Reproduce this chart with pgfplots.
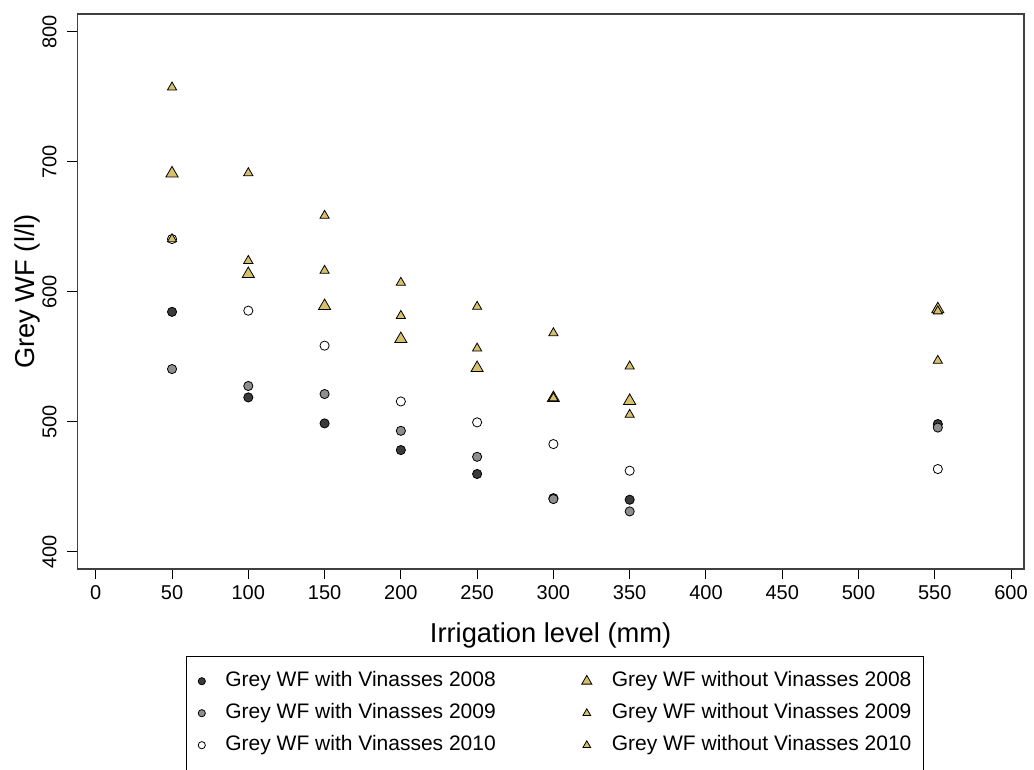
\documentclass[border=0pt]{standalone}
\usepackage{fontspec}
\setmainfont{Liberation Sans}
\usepackage{pgfplots}
\pgfplotsset{compat=1.18}
\newlength\px \setlength\px{0.75pt}
\definecolor{tri}{HTML}{D6C16A}
\definecolor{dk}{HTML}{3A3A3A}
\definecolor{gr}{HTML}{8E8E8E}
\begin{document}
\begin{tikzpicture}
\useasboundingbox (0,0) rectangle (1034\px,-769\px);
\begin{axis}[
  at={(77.3\px,-569\px)}, anchor=south west,
  scale only axis, width=946.7\px, height=555\px,
  xmin=-12.1, xmax=608.5, ymin=386.7, ymax=813.6,
  axis line style={line width=1.5\px, black!75},
  xtick={0,50,...,600}, ytick={400,500,...,800},
  xtick pos=left, ytick pos=left,
  tick align=outside, major tick length=10\px,
  tick style={line width=1\px, black},
  /pgf/number format/assume math mode=true,
  /pgf/number format/1000 sep={},
  tick label style={font=\fontsize{15}{18}\selectfont},
  xticklabel shift=2\px,
  yticklabel shift=6\px,
  yticklabel style={rotate=90, anchor=south},
  xlabel={Irrigation level (mm)},
  ylabel={Grey WF (l/l)},
  every axis x label/.style={at={(axis description cs:0.5,-0.119)}, anchor=center, font=\fontsize{20.5}{24}\selectfont},
  every axis y label/.style={at={(axis description cs:-0.053,0.5)}, rotate=90, anchor=center, font=\fontsize{20.5}{24}\selectfont},
  clip=false,
  legend columns=2,
  legend image code/.code={\draw[#1] plot coordinates {(0pt,0pt)};},
  legend style={at={(0.1145,-0.1562)}, anchor=north west, draw=black, line width=1\px,
    font=\fontsize{15.75}{18}\selectfont, inner xsep=12\px, inner ysep=15\px,
    row sep=12\px,
    nodes={inner sep=0pt, text height=15\px, text depth=5\px},
    cells={anchor=west},
    /tikz/every odd column/.append style={column sep=20\px},
    /tikz/every even column/.append style={column sep=86\px}},
]
% with vinasses 2008
\addplot[only marks, mark=*, mark size=4.6\px, mark options={fill=dk, draw=black, line width=0.8\px}, forget plot]
 coordinates {(50,584.5) (100,518.7) (150,498.7) (200,478.2) (250,459.8) (300,441.2) (350,440) (552,498.2)};
% with vinasses 2009
\addplot[only marks, mark=*, mark size=4.6\px, mark options={fill=gr, draw=black, line width=0.8\px}, forget plot]
 coordinates {(50,540.5) (100,527.5) (150,521.3) (200,493) (250,473) (300,440.5) (350,431) (552,495.5)};
% with vinasses 2010
\addplot[only marks, mark=*, mark size=4.6\px, mark options={fill=white, draw=black, line width=0.8\px}, forget plot]
 coordinates {(50,640.5) (100,585.4) (150,558.5) (200,515.6) (250,499.5) (300,482.8) (350,462.3) (552,463.6)};
% without vinasses 2008
\addplot[only marks, mark=triangle*, mark size=7\px, mark options={fill=tri, draw=black, line width=0.8\px}, forget plot]
 coordinates {(50,691) (100,613.6) (150,589) (200,563.6) (250,541.3) (300,518.2) (350,516) (552,586.5)};
% without vinasses 2009
\addplot[only marks, mark=triangle*, mark size=5.3\px, mark options={fill=tri, draw=black, line width=0.8\px}, forget plot]
 coordinates {(50,757.2) (100,691.3) (150,658.5) (200,607) (250,588.5) (300,568.2) (350,542.6) (552,547)};
% without vinasses 2010
\addplot[only marks, mark=triangle*, mark size=5.3\px, mark options={fill=tri, draw=black, line width=0.8\px}, forget plot]
 coordinates {(50,640.5) (100,623.8) (150,616.2) (200,581.5) (250,556.4) (300,518.2) (350,505.4) (552,585)};
% legend
\addlegendimage{only marks, mark=*, mark size=3.6\px, mark options={fill=dk, draw=black, line width=0.8\px}}
\addlegendentry{Grey WF with Vinasses 2008}
\addlegendimage{only marks, mark=triangle*, mark size=5.8\px, mark options={fill=tri, draw=black, line width=0.8\px}}
\addlegendentry{Grey WF without Vinasses 2008}
\addlegendimage{only marks, mark=*, mark size=3.6\px, mark options={fill=gr, draw=black, line width=0.8\px}}
\addlegendentry{Grey WF with Vinasses 2009}
\addlegendimage{only marks, mark=triangle*, mark size=4.4\px, mark options={fill=tri, draw=black, line width=0.8\px}}
\addlegendentry{Grey WF without Vinasses 2009}
\addlegendimage{only marks, mark=*, mark size=3.6\px, mark options={fill=white, draw=black, line width=0.8\px}}
\addlegendentry{Grey WF with Vinasses 2010}
\addlegendimage{only marks, mark=triangle*, mark size=4.4\px, mark options={fill=tri, draw=black, line width=0.8\px}}
\addlegendentry{Grey WF without Vinasses 2010}
\end{axis}
\end{tikzpicture}
\end{document}
